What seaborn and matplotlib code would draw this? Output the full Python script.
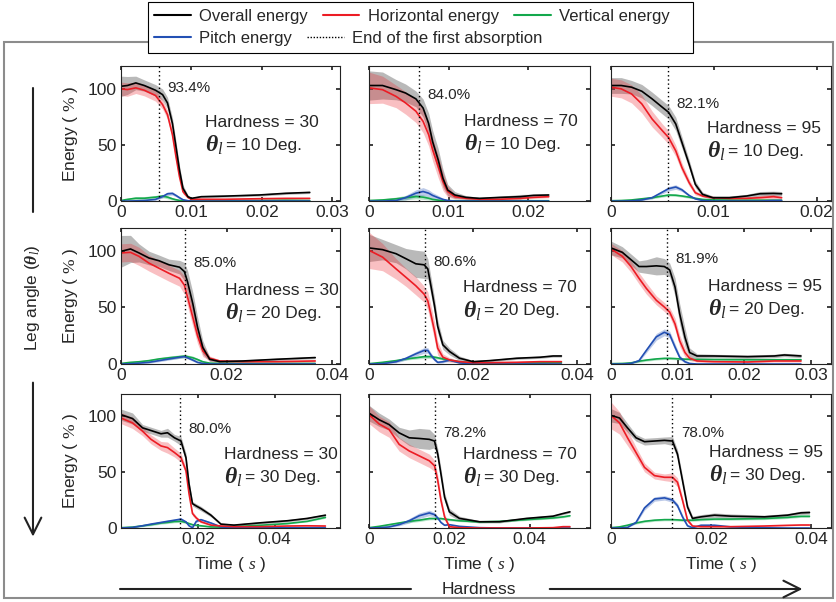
import matplotlib
matplotlib.use("Agg")
import matplotlib.pyplot as plt
import seaborn as sns
from matplotlib.lines import Line2D
from matplotlib.patches import Rectangle, FancyArrowPatch
from matplotlib.ticker import FuncFormatter

# ---- data ----
hardness = [30, 70, 95]          # columns
leg_angles = [10, 20, 30]        # rows
absorb_pct = [[93.4, 84.0, 82.1],
              [85.0, 80.6, 81.9],
              [80.0, 78.2, 78.0]]
absorb_time = [[0.0054, 0.0063, 0.0055],
               [0.0122, 0.0108, 0.0084],
               [0.0153, 0.0164, 0.0123]]

# row 1 (theta = 10)
t11 = [0, 0.0009, 0.0021, 0.0033, 0.0049, 0.0059, 0.0066, 0.0073, 0.0078, 0.0083, 0.0088, 0.0095, 0.0100, 0.0114, 0.0148, 0.0196, 0.0234, 0.0268]
overall11 = [102, 102.7, 105, 102.7, 98.5, 94.6, 87.2, 69, 48.5, 27.7, 11.3, 3.9, 2.4, 3.9, 4.4, 5.4, 6.9, 7.7]
horiz11 = [99.7, 99.1, 100.6, 98.5, 93.8, 85.7, 76.8, 59, 39.6, 21.7, 8.3, 3.3, 1.6, 1.6, 1.6, 2.1, 2.4, 2.4]
vert11 = [0.5, 1.5, 2.5, 2.5, 3.5, 4.5, 3.5, 2, 1.2, 0.6, 0.3, 0.2, 0.2, 0.2, 0.3, 0.5, 0.8, 0.5]
pitch11 = [0, 0, 0.2, 0.5, 1.5, 4, 6.5, 6.8, 5, 3, 1.2, 0.3, 0, 0, 0, 0, 0, 0]
overall_sd11 = [9, 8, 6, 5, 5, 5, 5, 5, 5, 4, 3, 1.5, 1, 1, 1, 1, 1, 1]
horiz_sd11 = [6, 6, 5, 5, 5, 4, 4, 4, 4, 3, 2, 1, 0.5, 0.5, 0.5, 0.5, 0.5, 0.5]
vert_sd11 = [0.5, 1, 1.5, 1.5, 1.5, 1.5, 1.5, 1, 0.8, 0.5, 0.3, 0.2, 0.2, 0.2, 0.2, 0.3, 0.5, 0.3]
pitch_sd11 = [0, 0, 0.2, 0.3, 0.8, 1.2, 1.5, 1.5, 1.2, 1, 0.5, 0.2, 0, 0, 0, 0, 0, 0]

t12 = [0, 0.0017, 0.0034, 0.0046, 0.0059, 0.0068, 0.0075, 0.0080, 0.0087, 0.0093, 0.0099, 0.0108, 0.0122, 0.0139, 0.0165, 0.0190, 0.0207, 0.0226]
overall12 = [102.7, 102.7, 99, 96, 90.8, 82.7, 69, 52.8, 36.6, 20.3, 9.8, 5.4, 3.3, 2.4, 3.3, 3.9, 5.1, 5.4]
horiz12 = [100.6, 99, 93, 87.2, 79.8, 70.8, 59, 45.6, 30.8, 17.4, 8.5, 3.9, 2.4, 1.6, 1.6, 2.4, 3.3, 3.9]
vert12 = [0.5, 1, 2, 3, 4, 3.5, 2.5, 1.5, 0.8, 0.4, 0.3, 0.3, 0.3, 0.3, 0.3, 0.3, 0.3, 0.3]
pitch12 = [0, 0, 0.5, 3, 7, 8.5, 7, 5, 3, 1.5, 0.5, 0, 0, 0, 0, 0, 0, 0]
overall_sd12 = [13, 12, 9, 8, 7, 8, 9, 10, 10, 8, 5, 3, 1.5, 1, 1, 2, 1, 1]
horiz_sd12 = [14, 12, 10, 10, 10, 10, 10, 10, 10, 8, 5, 2, 1, 1, 1, 1, 1, 1]
vert_sd12 = [0.5, 1, 1.5, 2, 2, 2, 1.5, 1, 0.5, 0.3, 0.2, 0.2, 0.2, 0.2, 0.2, 0.2, 0.2, 0.2]
pitch_sd12 = [0, 0, 0.5, 2, 3, 3.5, 3, 2.5, 2, 1, 0.5, 0, 0, 0, 0, 0, 0, 0]

t13 = [0, 0.0010, 0.0020, 0.0030, 0.0040, 0.0050, 0.0056, 0.0063, 0.0069, 0.0076, 0.0082, 0.0089, 0.0099, 0.0115, 0.0132, 0.0145, 0.0158, 0.0166]
overall13 = [102.7, 102.7, 101.2, 97.6, 90.8, 83.3, 78.9, 68.5, 52.1, 32.7, 14.9, 6, 3, 3, 4.5, 6.5, 6.8, 6.5]
horiz13 = [101.2, 99.7, 95.2, 86.3, 72.9, 62.5, 56.5, 44.6, 29.8, 16.4, 7.4, 4.5, 3, 2.4, 2.4, 3, 3.9, 3]
vert13 = [0.3, 0.5, 1, 2, 3, 4.5, 5.4, 5.2, 4.5, 3.5, 2.5, 1.5, 1, 0.8, 0.8, 0.8, 0.8, 0.8]
pitch13 = [0, 0, 0.2, 1, 3, 8, 11, 12.5, 10, 5, 2, 0.5, 0, 0, 0, 0, 0.5, 0.5]
overall_sd13 = [7, 7, 6, 6, 6, 6, 6, 6, 5, 4, 3, 2, 1.5, 1.5, 1.5, 2, 2, 2]
horiz_sd13 = [8, 8, 8, 8, 7, 6, 6, 5, 4, 3, 2, 1, 1, 1, 1, 2, 2, 1]
vert_sd13 = [0.3, 0.5, 0.5, 1, 1, 1, 1, 1, 1, 1, 0.8, 0.5, 0.5, 0.5, 0.5, 0.5, 0.5, 0.5]
pitch_sd13 = [0, 0, 0.2, 0.5, 1, 1.5, 2, 2, 1.5, 1, 0.5, 0.3, 0, 0, 0, 0, 0.3, 0.3]

# row 2 (theta = 20)
t21 = [0, 0.0018, 0.0034, 0.0053, 0.0072, 0.0091, 0.0111, 0.0120, 0.0126, 0.0136, 0.0145, 0.0155, 0.0168, 0.0187, 0.0231, 0.0295, 0.0368]
overall21 = [99.4, 101.5, 98, 93.5, 91.1, 87.5, 85.4, 81.6, 72.6, 53.3, 32.5, 14.6, 4.2, 2.1, 2.7, 4.2, 5.7]
horiz21 = [98, 98.5, 95, 89, 84.5, 80, 75.6, 69.6, 59.2, 41.3, 25, 11.6, 5.1, 2.7, 2.1, 2.1, 2.7]
vert21 = [0.5, 1.5, 2, 3, 4.5, 5.5, 6.5, 7, 6.5, 5.5, 4, 2, 0.8, 0.5, 0.5, 0.5, 0.5]
pitch21 = [0, 0.2, 0.8, 1.5, 3, 4.5, 6, 6.5, 5.5, 3.5, 1.5, 0.5, 0, 0, 0, 0, 0]
overall_sd21 = [14, 12, 8, 6, 5, 5, 6, 8, 10, 10, 9, 6, 2, 1, 1, 1, 1]
horiz_sd21 = [8, 8, 8, 7, 7, 7, 7, 8, 8, 8, 7, 5, 2, 1, 1, 1, 1]
vert_sd21 = [0.3, 0.5, 1, 1, 1, 1.5, 1.5, 1.5, 1.5, 1.5, 1, 0.8, 0.5, 0.3, 0.3, 0.3, 0.3]
pitch_sd21 = [0, 0.2, 0.5, 0.8, 1, 1, 1, 1, 1, 1, 0.8, 0.3, 0, 0, 0, 0, 0]

t22 = [0, 0.0026, 0.0052, 0.0071, 0.0090, 0.0106, 0.0113, 0.0119, 0.0126, 0.0132, 0.0142, 0.0155, 0.0174, 0.0200, 0.0232, 0.0284, 0.0329, 0.0354, 0.0370]
overall22 = [102.4, 100.9, 97.3, 92.9, 88.4, 87.5, 83.9, 69, 51.2, 33.3, 16.9, 11, 5.1, 2.1, 3, 5.1, 6, 7.1, 7.1]
horiz22 = [100.3, 94.3, 83.9, 76.5, 69, 61.6, 55.7, 43.8, 28.9, 14, 6, 3.6, 2.1, 1.2, 1.2, 1.5, 2.1, 2.1, 2.1]
vert22 = [0.3, 1.5, 3, 4.5, 5.5, 6.5, 6.5, 6.5, 6, 5.5, 4.5, 3.5, 2, 1, 0.8, 1, 1, 1.2, 1.2]
pitch22 = [0, 0.3, 2, 5, 9, 12, 12, 8, 4, 1.5, 2, 3.5, 1, 0, 0, 0, 0, 0, 0]
overall_sd22 = [12, 9, 8, 9, 12, 12, 9, 8, 7, 6, 4, 3, 2, 1, 1, 1, 1, 1, 1]
horiz_sd22 = [16, 12, 9, 8, 8, 7, 8, 8, 8, 6, 3, 2, 1, 1, 1, 1, 1, 1, 1]
vert_sd22 = [0.3, 0.8, 1, 1, 1.2, 1.5, 1.5, 1.5, 1.5, 1.2, 1, 0.8, 0.5, 0.5, 0.5, 0.5, 0.5, 0.5, 0.5]
pitch_sd22 = [0, 0.3, 1, 1.5, 2, 2.5, 2.5, 2, 1.5, 1, 1, 1, 0.5, 0, 0, 0, 0, 0, 0]

t23 = [0, 0.0017, 0.0030, 0.0042, 0.0053, 0.0068, 0.0080, 0.0088, 0.0096, 0.0103, 0.0111, 0.0118, 0.0129, 0.0154, 0.0205, 0.0245, 0.0260, 0.0285]
overall23 = [102.4, 98.5, 92, 86, 86, 86.6, 86, 83, 68, 44.3, 23.5, 10.1, 7.1, 7.1, 6.5, 7.1, 8, 7.1]
horiz23 = [101.5, 95, 86, 75.6, 66.7, 56.2, 50.3, 45.8, 35.4, 20.5, 10.1, 5.1, 2.7, 2.1, 1.8, 2.7, 2.7, 2.7]
vert23 = [0.3, 0.5, 1, 2.5, 3.5, 4.5, 5, 5, 4.8, 4.5, 4.3, 4.2, 4.1, 4, 3.8, 3.8, 3.8, 3.8]
pitch23 = [0, 0, 0.5, 3, 12, 24, 28, 26, 15, 6, 2, 0.5, 0, 0, 0, 0, 0, 0]
overall_sd23 = [6, 5, 5, 5, 6, 8, 7, 6, 8, 9, 8, 4, 2, 1.5, 1.5, 1.5, 1.5, 1.5]
horiz_sd23 = [5, 5, 5, 5, 5, 4, 4, 4, 5, 5, 4, 2, 1, 1, 1, 1, 1, 1]
vert_sd23 = [0.3, 0.5, 0.5, 1, 1, 1, 1, 1, 1, 1, 1, 0.8, 0.8, 0.8, 0.8, 0.8, 0.8, 0.8]
pitch_sd23 = [0, 0, 0.3, 1, 2, 3, 3, 3, 3, 2, 1, 0.5, 0, 0, 0, 0, 0, 0]

# row 3 (theta = 30)
t31 = [0, 0.0030, 0.0056, 0.0078, 0.0104, 0.0121, 0.0139, 0.0156, 0.0169, 0.0177, 0.0186, 0.0196, 0.0208, 0.0234, 0.0260, 0.0294, 0.0364, 0.0433, 0.0485, 0.0532]
overall31 = [101.5, 98, 89.7, 87.3, 84.4, 85.3, 80.8, 77.9, 63, 39.4, 21.8, 19.7, 17.4, 11.5, 3.5, 2.6, 4.7, 6.5, 8.6, 11.5]
horiz31 = [98.5, 94.1, 86.7, 79.4, 73.5, 72, 67.6, 63, 51.3, 30.7, 13, 9, 5.6, 2.6, 1.8, 1.2, 1.2, 1.8, 2, 1.8]
vert31 = [0.3, 0.8, 2, 3, 4.5, 5, 5.8, 6, 5, 4, 3, 2.5, 2, 1, 0.8, 1.2, 2.5, 4, 6, 9.5]
pitch31 = [0, 0.5, 2, 3.5, 5, 6, 7, 8, 5.5, 2, 0.3, 6, 7.5, 4.5, 1, 0.3, 0.2, 0.2, 0.2, 0.2]
overall_sd31 = [5, 5, 3, 3, 3, 4, 3, 4, 4, 3, 2, 2, 2, 1.5, 1, 1, 1, 1, 1, 1]
horiz_sd31 = [5, 5, 4, 4, 4, 5, 4, 4, 3, 3, 2, 1.5, 1, 0.5, 0.5, 0.5, 0.5, 0.5, 0.5, 0.5]
vert_sd31 = [0.3, 0.5, 0.8, 1, 1, 1, 1, 1, 1, 1, 0.8, 0.8, 0.5, 0.5, 0.5, 0.5, 0.5, 0.5, 0.5, 0.8]
pitch_sd31 = [0, 0.3, 0.5, 0.8, 1, 1, 1, 1, 1, 0.5, 0.3, 1, 1, 1, 0.5, 0.2, 0, 0, 0, 0]

t32 = [0, 0.0025, 0.0050, 0.0075, 0.0100, 0.0125, 0.0150, 0.0163, 0.0171, 0.0179, 0.0188, 0.0200, 0.0225, 0.0275, 0.0325, 0.0392, 0.0458, 0.0483, 0.0500]
overall32 = [102.9, 97, 92.6, 85.2, 80.8, 80.2, 79.4, 77.9, 66.1, 48.4, 27.7, 14.5, 8.6, 5.6, 5.6, 8.6, 10.6, 13, 14.5]
horiz32 = [101.5, 93.2, 88.2, 74.9, 69, 64.6, 60.2, 55.7, 42.5, 24.8, 10, 1.2, 0.3, 0, 0, 0, 0.3, 1.2, 1.2]
vert32 = [0.3, 1.5, 3, 4.5, 6, 7, 8.5, 8.5, 8.5, 8.5, 8, 7.5, 6.5, 5.5, 6, 7.5, 9, 10, 11]
pitch32 = [0, 0.2, 1, 3, 6.5, 11, 13.5, 12, 9, 5, 2.5, 3, 1.5, 0.3, 0, 0, 0, 0, 0]
overall_sd32 = [7, 6, 5, 5, 7, 9, 9, 6, 5, 5, 4, 3, 2, 1, 1, 1, 1, 1, 1]
horiz_sd32 = [8, 7, 7, 6, 6, 6, 6, 5, 5, 4, 3, 1, 0.5, 0.5, 0.5, 0.5, 0.5, 0.5, 0.5]
vert_sd32 = [0.3, 0.5, 1, 1, 1.2, 1.2, 1.2, 1, 1, 1, 1, 1, 0.8, 0.8, 0.8, 0.8, 0.8, 0.8, 0.8]
pitch_sd32 = [0, 0.3, 0.5, 1, 2, 2.5, 2.5, 2, 1.5, 1, 0.5, 0.5, 0.5, 0.2, 0, 0, 0, 0, 0]

t33 = [0, 0.0017, 0.0033, 0.0050, 0.0067, 0.0087, 0.0107, 0.0123, 0.0133, 0.0143, 0.0153, 0.0163, 0.0180, 0.0207, 0.0240, 0.0307, 0.0353, 0.0380, 0.0397]
overall33 = [100.9, 98.5, 89.7, 80.8, 77.3, 77.9, 78.5, 77.9, 66.1, 42.5, 18.9, 8.6, 10, 11.5, 10.6, 10, 11.5, 13.6, 13.9]
horiz33 = [100.9, 94.1, 80.8, 67.6, 54.3, 46.9, 45.4, 45.4, 41, 24.8, 7.1, 1.8, 1.2, 1.2, 1.2, 1.8, 2.4, 2.7, 2.7]
vert33 = [0.3, 1, 2.5, 4.5, 6, 7, 7.5, 7.5, 7.3, 7, 7, 7, 7.5, 8, 8, 8.5, 9.5, 10.5, 10.5]
pitch33 = [0, 0, 0.5, 5, 18, 26, 27, 25, 20, 10, 2, 0.3, 2.5, 2.5, 1, 0.2, 0, 0, 0]
overall_sd33 = [6, 5, 4, 3, 3, 3, 3, 4, 4, 4, 3, 2, 2, 2, 2, 1.5, 1.5, 1.5, 1.5]
horiz_sd33 = [12, 10, 7, 5, 4, 3, 3, 4, 4, 3, 2, 1, 0.5, 0.5, 0.5, 0.5, 0.5, 0.5, 0.5]
vert_sd33 = [0.3, 0.5, 0.8, 1, 1, 1, 1, 1, 1, 1, 1, 1, 1, 1, 1, 1, 1, 1, 1]
pitch_sd33 = [0, 0, 0.3, 1, 2, 2, 2, 2, 2, 2, 1, 0.3, 0.5, 0.5, 0.3, 0, 0, 0, 0]

panels = [
    [(t11, overall11, horiz11, vert11, pitch11, overall_sd11, horiz_sd11, vert_sd11, pitch_sd11),
     (t12, overall12, horiz12, vert12, pitch12, overall_sd12, horiz_sd12, vert_sd12, pitch_sd12),
     (t13, overall13, horiz13, vert13, pitch13, overall_sd13, horiz_sd13, vert_sd13, pitch_sd13)],
    [(t21, overall21, horiz21, vert21, pitch21, overall_sd21, horiz_sd21, vert_sd21, pitch_sd21),
     (t22, overall22, horiz22, vert22, pitch22, overall_sd22, horiz_sd22, vert_sd22, pitch_sd22),
     (t23, overall23, horiz23, vert23, pitch23, overall_sd23, horiz_sd23, vert_sd23, pitch_sd23)],
    [(t31, overall31, horiz31, vert31, pitch31, overall_sd31, horiz_sd31, vert_sd31, pitch_sd31),
     (t32, overall32, horiz32, vert32, pitch32, overall_sd32, horiz_sd32, vert_sd32, pitch_sd32),
     (t33, overall33, horiz33, vert33, pitch33, overall_sd33, horiz_sd33, vert_sd33, pitch_sd33)],
]

x_max = [[0.0311, 0.0278, 0.0214], [0.0415, 0.0425, 0.033], [0.057, 0.055, 0.044]]
x_ticks = [[[0, 0.01, 0.02, 0.03], [0, 0.01, 0.02], [0, 0.01, 0.02]],
           [[0, 0.02, 0.04], [0, 0.02, 0.04], [0, 0.01, 0.02, 0.03]],
           [[0.02, 0.04], [0, 0.02, 0.04], [0, 0.02, 0.04]]]

# layout (figure fractions), text anchors (axes fractions)
col_left = [0.1446, 0.4409, 0.730]
col_w = [0.2616, 0.264, 0.2628]
row_bottom = [0.666, 0.3953, 0.1229]
row_h = [0.2243, 0.226, 0.2226]
hard_x = [[0.385, 0.43, 0.435], [0.476, 0.424, 0.44], [0.47, 0.424, 0.445]]
hard_y = [[0.58, 0.587, 0.54], [0.54, 0.56, 0.57], [0.55, 0.55, 0.56]]
pct_y = [[0.84, 0.785, 0.72], [0.745, 0.75, 0.77], [0.74, 0.71, 0.71]]

C_K, C_R, C_G, C_B = "black", "#ec1c24", "#13a84c", "#2350b4"
THETA = r"$\mathbf{\theta}_{\mathit{l}}$"

sns.set_theme(style="ticks", rc={
    "xtick.direction": "in", "ytick.direction": "in",
    "xtick.top": True, "ytick.right": True,
    "xtick.major.size": 3, "ytick.major.size": 3,
    "axes.linewidth": 0.8, "axes.edgecolor": "#222222",
})
plt.rcParams["font.family"] = ["Liberation Sans", "DejaVu Sans"]
plt.rcParams["mathtext.fontset"] = "custom"
plt.rcParams["mathtext.rm"] = "Liberation Serif"
plt.rcParams["mathtext.it"] = "Liberation Serif:italic"
plt.rcParams["mathtext.bf"] = "Liberation Serif:italic:bold"

fig = plt.figure(figsize=(8.37, 6.02), dpi=100)
fmt = FuncFormatter(lambda v, p: "0" if abs(v) < 1e-12 else f"{v:.2f}")

for i in range(3):
    for j in range(3):
        t, k, r, g, b, ks, rs, gs, bs = panels[i][j]
        ax = fig.add_axes([col_left[j], row_bottom[i], col_w[j], row_h[i]])
        for vals, sd, c, a in [(k, ks, "#5a5a5a", 0.42), (r, rs, C_R, 0.28),
                               (g, gs, C_G, 0.3), (b, bs, C_B, 0.3)]:
            ax.fill_between(t, [v - s for v, s in zip(vals, sd)],
                            [v + s for v, s in zip(vals, sd)],
                            color=c, alpha=a, lw=0)
        for vals, c in [(g, C_G), (b, C_B), (r, C_R), (k, C_K)]:
            sns.lineplot(x=t, y=vals, ax=ax, color=c, lw=1.2,
                         estimator=None, sort=False, legend=False)
        ax.axvline(absorb_time[i][j], color="black", lw=1, ls=(0, (1, 2)))
        ax.annotate(f"{absorb_pct[i][j]:.1f}%", xy=(absorb_time[i][j], pct_y[i][j]),
                    xycoords=("data", "axes fraction"), xytext=(6, 0),
                    textcoords="offset points", va="center", ha="left", fontsize=11)
        ax.text(hard_x[i][j], hard_y[i][j], f"Hardness = {hardness[j]}",
                transform=ax.transAxes, va="center", ha="left", fontsize=12.5)
        ax.text(hard_x[i][j], hard_y[i][j] - 0.17, THETA,
                transform=ax.transAxes, va="center", ha="left", fontsize=17)
        ax.annotate(f"= {leg_angles[i]} Deg.", xy=(hard_x[i][j], hard_y[i][j] - 0.17),
                    xycoords="axes fraction", xytext=(15, 0), textcoords="offset points",
                    va="center", ha="left", fontsize=12.5)
        ax.set_xlim(0, x_max[i][j])
        ax.set_ylim(0, 120)
        ax.set_xticks(x_ticks[i][j])
        ax.xaxis.set_major_formatter(fmt)
        ax.set_yticks([0, 50, 100])
        ax.tick_params(labelsize=12.5, pad=3)
        ax.set_xlabel("")
        ax.set_ylabel("")
        if j == 0:
            ax.set_ylabel(r"Energy ( $\mathit{\%}$ )", fontsize=12.5)
            ax.yaxis.set_label_coords(-0.187, 0.5)
        else:
            ax.tick_params(labelleft=False)
        if i == 2:
            ax.set_xlabel(r"Time ( $\mathit{s}$ )", fontsize=12.5)
            ax.xaxis.set_label_coords(0.5, -0.2)

# outer frame
fig.add_artist(Rectangle((4 / 837, 1 - 598 / 602), 829 / 837, 556 / 602,
                         transform=fig.transFigure, fill=False,
                         edgecolor="#8c8c8c", lw=1.5, zorder=0))

# left "Leg angle" arrow
fig.add_artist(Line2D([0.0394, 0.0394], [0.854, 0.648], transform=fig.transFigure,
                      color="#222222", lw=1.5))
fig.add_artist(FancyArrowPatch((0.0394, 0.369), (0.0394, 0.104), transform=fig.transFigure,
                               arrowstyle="->,head_length=0.6,head_width=0.3",
                               mutation_scale=20, color="#222222", lw=1.5))
fig.text(0.0394, 0.505, "Leg angle (" + THETA + ")", rotation=90,
         ha="center", va="center", fontsize=12.5)

# bottom "Hardness" arrow
yb = 1 - 589 / 602
fig.add_artist(Line2D([0.1434, 0.491], [yb, yb], transform=fig.transFigure,
                      color="#222222", lw=1.5))
fig.add_artist(FancyArrowPatch((0.6535, yb), (0.962, yb), transform=fig.transFigure,
                               arrowstyle="->,head_length=0.6,head_width=0.3",
                               mutation_scale=20, color="#222222", lw=1.5))
fig.text(0.572, yb, "Hardness", ha="center", va="center", fontsize=12.5)

# legend: white box with two flowing rows
fig.add_artist(Rectangle((148 / 837, 1 - 53 / 602), 545 / 837, 51 / 602,
                         transform=fig.transFigure, facecolor="white",
                         edgecolor="black", lw=0.8, zorder=3))
row1_h = [Line2D([], [], color=C_K, lw=1.5), Line2D([], [], color=C_R, lw=1.5),
          Line2D([], [], color=C_G, lw=1.5)]
row1_l = ["Overall energy", "Horizontal energy", "Vertical energy"]
row2_h = [Line2D([], [], color=C_B, lw=1.5), Line2D([], [], color="black", lw=1, ls=(0, (1, 1.2)))]
row2_l = ["Pitch energy", "End of the first absorption"]
for hs, ls, yc in [(row1_h, row1_l, 1 - 16 / 602), (row2_h, row2_l, 1 - 38 / 602)]:
    lg = fig.legend(hs, ls, loc="center left", bbox_to_anchor=(154 / 837, yc),
                    ncol=len(hs), fontsize=12, frameon=False, borderpad=0,
                    borderaxespad=0, columnspacing=0.9, handlelength=2.2,
                    handletextpad=0.5)
    lg.set_zorder(5)

fig.savefig("out.png", dpi=100)
